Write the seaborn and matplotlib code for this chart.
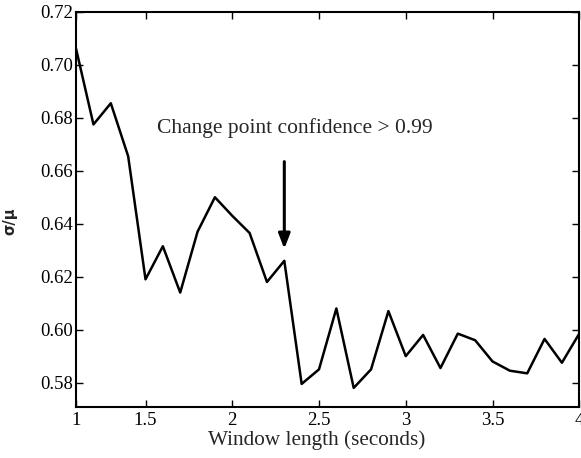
import matplotlib
matplotlib.use("Agg")
import matplotlib.pyplot as plt
import seaborn as sns
import pandas as pd

# Data
window_length = [1.1, 1.2, 1.3, 1.4, 1.5, 1.6, 1.7, 1.8, 1.9, 2.0,
                 2.1, 2.2, 2.3, 2.4, 2.5, 2.6, 2.7, 2.8, 2.9, 3.0,
                 3.1, 3.2, 3.3, 3.4, 3.5, 3.6, 3.7, 3.8, 3.9, 4.0]
ratio = [0.706, 0.6775, 0.6855, 0.6655, 0.619, 0.6315, 0.614, 0.637, 0.650, 0.643,
         0.6365, 0.618, 0.626, 0.5795, 0.585, 0.608, 0.578, 0.585, 0.607, 0.590,
         0.598, 0.5855, 0.5985, 0.596, 0.588, 0.5845, 0.5835, 0.5965, 0.5875, 0.5985]
x_tick_pos = [1.1, 1.5, 2, 2.5, 3, 3.5, 4]
x_tick_labels = ["1", "1.5", "2", "2.5", "3", "3.5", "4"]
y_ticks = [0.58, 0.60, 0.62, 0.64, 0.66, 0.68, 0.70, 0.72]
annotation_text = "Change point confidence > 0.99"
arrow_x = 2.3

sns.set_style("ticks")
plt.rcParams['font.family'] = ['Liberation Serif', 'DejaVu Serif']

df = pd.DataFrame({"w": window_length, "r": ratio})

fig = plt.figure(figsize=(5.81, 4.58), dpi=100)
ax = fig.add_axes([0.131, 0.112, 0.866, 0.862])
sns.lineplot(data=df, x="w", y="r", color="black", linewidth=1.8, ax=ax)

ax.set_xlim(1.1, 4)
ax.set_ylim(0.5709, 0.72)
ax.set_xticks(x_tick_pos)
ax.set_xticklabels(x_tick_labels)
ax.set_yticks(y_ticks)
ax.set_yticklabels([f"{v:.2f}" for v in y_ticks])
ax.tick_params(direction="in", length=5, width=1, top=True, right=True,
               labelsize=13.5, colors="black")
ax.tick_params(axis="y", pad=2.5)
ax.tick_params(axis="x", pad=3.5)
for s in ax.spines.values():
    s.set_visible(True)
    s.set_linewidth(1.5)
    s.set_color("black")

ax.set_xlabel("Window length (seconds)", fontsize=15.3)
ax.xaxis.set_label_coords(0.479, -0.06)
ax.set_ylabel("σ/μ", fontsize=10.5, family=["DejaVu Sans"], fontweight="bold")
ax.yaxis.set_label_coords(-0.117, 0.47)

ax.text(1.565, 0.676, annotation_text, fontsize=15.5, va="center", ha="left")
ax.annotate("", xy=(arrow_x, 0.6295), xytext=(arrow_x, 0.6645),
            arrowprops=dict(arrowstyle="-|>,head_length=0.9,head_width=0.35",
                            color="black", lw=2.2))

fig.savefig("out.png", dpi=100)
